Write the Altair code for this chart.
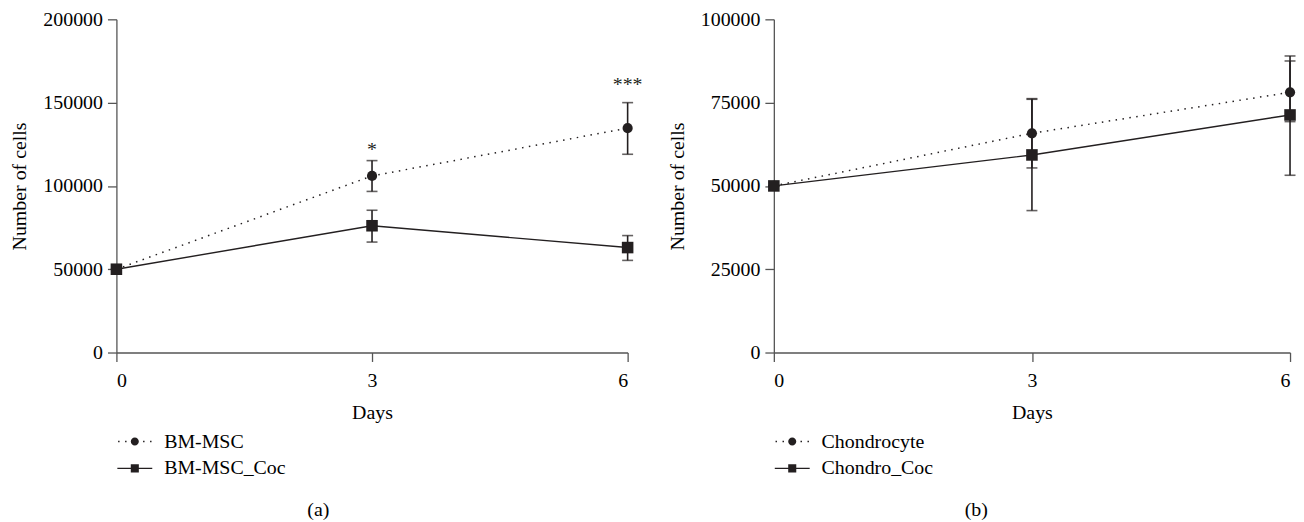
import altair as alt
import pandas as pd

FONT = "Liberation Serif"
INK = "#231f20"
AXC = "#555555"

days = [0, 3, 6]

# Panel (a)
a_names = ["BM-MSC", "BM-MSC_Coc"]
a_msc_mean = [50000, 106000, 134700]
a_msc_lo = [50000, 96700, 119000]
a_msc_hi = [50000, 115200, 150000]
a_coc_mean = [50000, 76100, 63000]
a_coc_lo = [50000, 66300, 55300]
a_coc_hi = [50000, 85400, 70200]
a_yticks = [0, 50000, 100000, 150000, 200000]
a_star_days = [3, 6]
a_star_vals = [118000, 157000]
a_star_text = ["*", "***"]

# Panel (b)
b_names = ["Chondrocyte", "Chondro_Coc"]
b_chon_mean = [50000, 65800, 78100]
b_chon_lo = [50000, 55400, 69300]
b_chon_hi = [50000, 76200, 87500]
b_coc_mean = [50000, 59300, 71300]
b_coc_lo = [50000, 42600, 53200]
b_coc_hi = [50000, 76000, 89000]
b_yticks = [0, 25000, 50000, 75000, 100000]


def dots_path():
    parts = []
    for cx in [-1.19, -0.67, 0.67, 1.19]:
        h = 0.055
        parts.append(f"M{cx-h},{-h}L{cx+h},{-h}L{cx+h},{h}L{cx-h},{h}Z")
    r = 0.3
    parts.append(f"M{r},0A{r},{r} 0 1,1 {-r},0A{r},{r} 0 1,1 {r},0Z")
    return "".join(parts)


def line_square_path():
    L, t, s = 1.3, 0.05, 0.3
    return (f"M{-L},{-t}L{L},{-t}L{L},{t}L{-L},{t}Z"
            f"M{-s},{-s}L{s},{-s}L{s},{s}L{-s},{s}Z")


P_DOT = dots_path()
P_SQ = line_square_path()


def panel(names, series, ymax, yticks, letter, dx, width, stars=None):
    rows = []
    for name, (m, lo, hi) in zip(names, series):
        for d, mv, l, h in zip(days, m, lo, hi):
            rows.append(dict(series=name, day=d, mean=mv, lo=l, hi=h))
    df = pd.DataFrame(rows)

    xs = alt.Scale(domain=[0, 6], nice=False)
    xa = alt.Axis(values=days, title="Days", titlePadding=12, labelPadding=9)
    ys = alt.Scale(domain=[0, ymax], nice=False)
    ya = alt.Axis(values=yticks, format="d", titlePadding=13, labelPadding=5)

    def X():
        return alt.X("day:Q", scale=xs, axis=xa)

    def Y(f):
        return alt.Y(f, scale=ys, axis=ya, title="Number of cells")

    base = alt.Chart(df)
    rule = base.mark_rule(strokeWidth=1.6, color=INK).encode(
        x=X(), y=Y("lo:Q"), y2="hi:Q")
    cap_lo = base.mark_tick(orient="horizontal", size=11, thickness=1.6,
                            color=INK).encode(x=X(), y=Y("lo:Q"))
    cap_hi = base.mark_tick(orient="horizontal", size=11, thickness=1.6,
                            color=INK).encode(x=X(), y=Y("hi:Q"))
    line1 = base.transform_filter(alt.datum.series == names[0]).mark_line(
        strokeWidth=1.5, strokeDash=[1.5, 5.5], color=INK).encode(
        x=X(), y=Y("mean:Q"))
    line2 = base.transform_filter(alt.datum.series == names[1]).mark_line(
        strokeWidth=1.4, color=INK).encode(x=X(), y=Y("mean:Q"))
    pt1 = base.transform_filter(alt.datum.series == names[0]).mark_point(
        shape="circle", filled=True, size=105, opacity=1, color=INK).encode(
        x=X(), y=Y("mean:Q"))
    pt2 = base.transform_filter(alt.datum.series == names[1]).mark_point(
        shape="square", filled=True, size=135, opacity=1, color=INK).encode(
        x=X(), y=Y("mean:Q"))
    leg = base.mark_point(filled=True, opacity=0, color=INK).encode(
        x=X(), y=Y("mean:Q"),
        shape=alt.Shape("series:N",
                        scale=alt.Scale(domain=names, range=[P_DOT, P_SQ]),
                        legend=alt.Legend(
                            orient="none", legendX=5, legendY=411, title=None,
                            labelFont=FONT, labelFontSize=20, labelColor="black",
                            symbolSize=729, symbolStrokeWidth=0,
                            symbolFillColor=INK, symbolOpacity=1,
                            labelOffset=16, rowPadding=3, padding=0)))
    layers = [rule, cap_lo, cap_hi, line1, line2, pt1, pt2, leg]
    if stars is not None:
        sdf = pd.DataFrame(dict(day=stars[0], val=stars[1], label=stars[2]))
        txt = alt.Chart(sdf).mark_text(fontSize=20, font=FONT,
                                       baseline="alphabetic", color=INK).encode(
            x=X(), y=Y("val:Q"), text="label:N")
        layers.append(txt)
    return alt.layer(*layers).properties(
        width=width, height=335,
        title=alt.TitleParams(letter, orient="bottom", font=FONT, fontSize=20,
                              fontWeight="normal", color="black", dx=dx,
                              offset=21))


left = panel(a_names,
             [(a_msc_mean, a_msc_lo, a_msc_hi), (a_coc_mean, a_coc_lo, a_coc_hi)],
             200000, a_yticks, "(a)", -54, 514,
             stars=(a_star_days, a_star_vals, a_star_text))
right = panel(b_names,
              [(b_chon_mean, b_chon_lo, b_chon_hi), (b_coc_mean, b_coc_lo, b_coc_hi)],
              100000, b_yticks, "(b)", -56, 519)

chart = alt.hconcat(left, right, spacing=25).resolve_scale(
    shape="independent"
).resolve_legend(shape="independent").properties(
    padding={"left": 2, "top": 0, "right": 0, "bottom": 0}
).configure_view(stroke=None).configure_axis(
    grid=False, domainColor=AXC, tickColor=AXC, domainWidth=1.3, tickWidth=1.3,
    tickSize=9, labelFont=FONT, titleFont=FONT, labelFontSize=20,
    titleFontSize=20, titleFontWeight="normal", labelColor="black",
    titleColor="black"
).configure_title(anchor="middle")

chart.save("out.html", embed_options={"renderer": "svg", "actions": False})
